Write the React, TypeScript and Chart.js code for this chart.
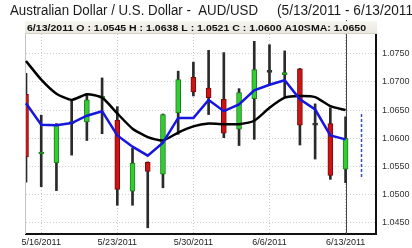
import React, { useEffect, useRef } from "react";
import { Chart, registerables } from "chart.js";

Chart.register(...registerables);

// ---- data ----
const dates = [
  "5/13/2011", "5/16/2011", "5/17/2011", "5/18/2011", "5/19/2011", "5/20/2011",
  "5/23/2011", "5/24/2011", "5/25/2011", "5/26/2011", "5/27/2011",
  "5/30/2011", "5/31/2011", "6/1/2011", "6/2/2011", "6/3/2011",
  "6/6/2011", "6/7/2011", "6/8/2011", "6/9/2011", "6/10/2011",
  "6/13/2011", "6/14/2011", "",
];
const tickDates = ["5/16/2011", "5/23/2011", "5/30/2011", "6/6/2011", "6/13/2011"];

const openV = [1.0678, 1.0572, 1.0556, 1.0626, 1.0629, 1.0671, 1.0632, 1.0506, 1.0557, 1.0536, 1.0645,
  1.0708, 1.0689, 1.0669, 1.0616, 1.0670, 1.0717, 1.0713, 1.0723, 1.0623, 1.0626, 1.0545];
const highV = [1.0715, 1.0641, 1.0626, 1.0666, 1.0679, 1.0707, 1.0656, 1.0582, 1.0558, 1.0643, 1.0719,
  1.0735, 1.0756, 1.0752, 1.0688, 1.0772, 1.0766, 1.0755, 1.0724, 1.0661, 1.0654, 1.0638];
const lowV = [1.0522, 1.0514, 1.0507, 1.0570, 1.0596, 1.0608, 1.0481, 1.0481, 1.0441, 1.0512, 1.0607,
  1.0675, 1.0642, 1.0601, 1.0587, 1.0598, 1.0694, 1.0672, 1.0588, 1.0563, 1.0527, 1.0521];
const closeV = [1.0567, 1.0574, 1.0623, 1.0627, 1.0668, 1.0672, 1.0509, 1.0556, 1.0541, 1.0642, 1.0704,
  1.0682, 1.0672, 1.0609, 1.0681, 1.0722, 1.0717, 1.0715, 1.0623, 1.0623, 1.0534, 1.0600];

const blueSma = [1.0662, 1.0624, 1.0623, 1.0627, 1.0640, 1.0648, 1.0605, 1.0585, 1.0569, 1.0592, 1.0636,
  1.0636, 1.0668, 1.0648, 1.0660, 1.0685, 1.0695, 1.0703, 1.0669, 1.0651, 1.0605, 1.0598];
const sma10 = [1.0737, 1.0704, 1.0679, 1.0668, 1.0678, 1.0672, 1.0644, 1.0617, 1.0602, 1.0596, 1.0610,
  1.0621, 1.0626, 1.0625, 1.0625, 1.0631, 1.0654, 1.0672, 1.0675, 1.0673, 1.0657, 1.0650];

const projectionIndex = 22;
const projectionRange = [1.0643, 1.0528];
const cursorIndex = 21;

const yTicks = [1.045, 1.05, 1.055, 1.06, 1.065, 1.07, 1.075];
const yMin = 1.043;
const yMax = 1.0785;

const FONT = '"Liberation Sans", Arial, sans-serif';

function fitText(ctx: CanvasRenderingContext2D, text: string, x: number, y: number, sx: number) {
  ctx.save();
  ctx.translate(x, y);
  ctx.scale(sx, 1);
  ctx.fillText(text, 0, 0);
  ctx.restore();
}

const decor = {
  id: "decor",
  beforeDraw(chart: any) {
    const ctx = chart.ctx;
    ctx.save();
    ctx.fillStyle = "#ffffff";
    ctx.fillRect(0, 0, chart.width, chart.height);
    ctx.restore();
  },
  beforeDatasetsDraw(chart: any) {
    const ctx = chart.ctx;
    const a = chart.chartArea;
    const xs = chart.scales.x;
    ctx.save();
    ctx.strokeStyle = "#c4c4c4";
    ctx.lineWidth = 1;
    ctx.beginPath();
    ctx.moveTo(a.left - 0.5, 21);
    ctx.lineTo(a.left - 0.5, a.bottom);
    ctx.stroke();
    // cursor line
    const cx = Math.round(xs.getPixelForValue(cursorIndex)) + 0.5;
    ctx.strokeStyle = "#444";
    ctx.beginPath();
    ctx.moveTo(cx, 20);
    ctx.lineTo(cx, a.bottom);
    ctx.stroke();
    ctx.restore();
  },
  afterDatasetsDraw(chart: any) {
    const ctx = chart.ctx;
    const xs = chart.scales.x;
    const ys = chart.scales.y;
    const px = Math.round(xs.getPixelForValue(projectionIndex)) + 0.5;
    ctx.save();
    ctx.strokeStyle = "#3050c8";
    ctx.lineWidth = 1.5;
    ctx.setLineDash([3, 2]);
    ctx.beginPath();
    ctx.moveTo(px, ys.getPixelForValue(projectionRange[0]));
    ctx.lineTo(px, ys.getPixelForValue(projectionRange[1]));
    ctx.stroke();
    ctx.restore();
  },
  afterDraw(chart: any) {
    const ctx = chart.ctx;
    const a = chart.chartArea;
    ctx.save();
    // title
    ctx.fillStyle = "#1a1a1a";
    ctx.font = "14px " + FONT;
    ctx.textBaseline = "alphabetic";
    const t1 = "Australian Dollar / U.S. Dollar -  AUD/USD";
    const t2a = "(" + dates[0] + " - " + dates[cursorIndex];
    const t2 = t2a + ")";
    const sx = 248 / ctx.measureText(t1).width;
    const sx2 = 136 / ctx.measureText(t2a).width;
    fitText(ctx, t1, 10, 15, sx);
    fitText(ctx, t2, 277, 15, sx2);
    // info box
    const g = ctx.createLinearGradient(0, 21, 0, 34);
    g.addColorStop(0, "#f6f5ef");
    g.addColorStop(1, "#e9e7dd");
    ctx.fillStyle = g;
    ctx.fillRect(a.left - 1, 21, a.right - a.left + 2, 13);
    ctx.strokeStyle = "#d4d2c8";
    ctx.lineWidth = 1;
    ctx.beginPath();
    ctx.moveTo(a.left - 1, 33.5);
    ctx.lineTo(a.right + 1, 33.5);
    ctx.stroke();
    const i = cursorIndex;
    const info =
      dates[i] + " O : " + openV[i].toFixed(4) + " H : " + highV[i].toFixed(4) +
      " L : " + lowV[i].toFixed(4) + " C : " + closeV[i].toFixed(4) +
      " A10SMA: " + sma10[i].toFixed(4);
    ctx.font = "bold 9px " + FONT;
    ctx.fillStyle = "#111";
    const sx3 = 339 / ctx.measureText(info).width;
    fitText(ctx, info, 27, 30.5, sx3);
    ctx.restore();
  },
};

export default function App() {
  const ref = useRef<HTMLCanvasElement | null>(null);
  useEffect(() => {
    if (!ref.current) return;
    const n = openV.length;
    const bodies = openV.map((o, i) => [o, closeV[i]]);
    const wicks = lowV.map((l, i) => [l, highV[i]]);
    const bodyFill = openV.map((o, i) =>
      closeV[i] > o ? "#33cc33" : closeV[i] < o ? "#cc1414" : "#333333"
    );
    const bodyEdge = openV.map((o, i) =>
      closeV[i] > o ? "#1d7d1d" : closeV[i] < o ? "#7a0a0a" : "#333333"
    );
    const pad = (arr: number[]) => arr.concat(new Array(dates.length - arr.length).fill(null));
    const tickIdx = tickDates.map((d) => dates.indexOf(d));

    const chart = new Chart(ref.current, {
      type: "bar",
      data: {
        labels: dates,
        datasets: [
          {
            type: "line",
            data: pad(blueSma),
            borderColor: "#1616e0",
            borderWidth: 2.5,
            pointRadius: 0,
            tension: 0,
            order: 0,
          } as any,
          {
            type: "line",
            data: pad(sma10),
            borderColor: "#000000",
            borderWidth: 2.5,
            pointRadius: 0,
            tension: 0.2,
            order: 1,
          } as any,
          {
            type: "bar",
            data: bodies.concat(new Array(dates.length - n).fill(null)),
            backgroundColor: bodyFill,
            borderColor: bodyEdge,
            borderWidth: 1,
            borderSkipped: false,
            barThickness: 5,
            minBarLength: 2,
            grouped: false,
            clip: 0,
            order: 2,
          } as any,
          {
            type: "bar",
            data: wicks.concat(new Array(dates.length - n).fill(null)),
            backgroundColor: "#2a2a2a",
            borderWidth: 0,
            barThickness: 2,
            grouped: false,
            clip: 0,
            order: 3,
          } as any,
        ],
      },
      options: {
        responsive: false,
        maintainAspectRatio: false,
        animation: false,
        devicePixelRatio: 1,
        layout: { padding: { left: 26, top: 34, right: 0, bottom: 0 } },
        plugins: {
          legend: { display: false },
          tooltip: { enabled: false },
          title: { display: false },
        },
        scales: {
          x: {
            type: "category",
            offset: false,
            grid: {
              offset: false,
              drawTicks: false,
              lineWidth: 1,
              color: (c: any) => (tickIdx.includes(c.index) ? "#c8c8c8" : "rgba(0,0,0,0)"),
            },
            border: { display: true, color: "#111", width: 2, dash: [1, 2] },
            ticks: {
              autoSkip: false,
              maxRotation: 0,
              minRotation: 0,
              padding: 3,
              color: "#222",
              font: { size: 9, family: FONT },
              callback: (_v: any, idx: number) => (tickIdx.includes(idx) ? dates[idx] : ""),
            },
            afterFit: (s: any) => {
              s.height = 14;
            },
          },
          y: {
            type: "linear",
            position: "right",
            min: yMin,
            max: yMax,
            afterBuildTicks: (s: any) => {
              s.ticks = yTicks.map((v) => ({ value: v }));
            },
            grid: { drawTicks: false, color: "#d0d0d0", lineWidth: 1 },
            border: { display: true, color: "#111", width: 2, dash: [1, 2] },
            ticks: {
              padding: 6,
              color: "#333",
              font: { size: 9, family: FONT },
              callback: (v: any) => Number(v).toFixed(4),
            },
            afterFit: (s: any) => {
              s.width = 36;
            },
          },
        },
      },
      plugins: [decor],
    } as any);
    return () => chart.destroy();
  }, []);

  return (
    <div style={{ position: "fixed", left: 0, top: 0, width: 412, height: 248, background: "#fff" }}>
      <canvas ref={ref} width={412} height={248} style={{ display: "block", width: 412, height: 248 }} />
    </div>
  );
}
